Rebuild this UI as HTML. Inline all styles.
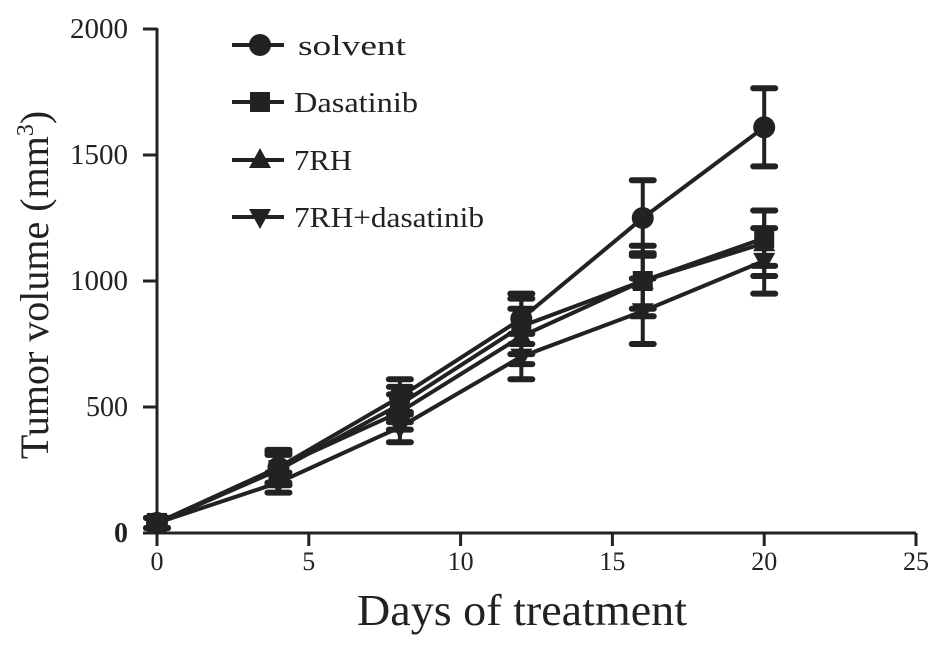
<!DOCTYPE html>
<html><head><meta charset="utf-8"><style>
body{margin:0;background:#fff}
svg{display:block;font-family:"Liberation Serif",serif}
</style></head><body>
<svg id="chart" width="945" height="650"></svg>
<script>
const days=[0,4,8,12,16,20];
const solvent=[40,260,540,850,1250,1610];
const solventErr=[20,70,70,100,150,155];
const dasatinib=[40,250,510,820,1000,1170];
const dasatinibErr=[20,60,70,110,110,110];
const rh7=[40,260,480,780,1000,1150];
const rh7Err=[20,60,70,110,140,130];
const combo=[40,200,420,700,880,1080];
const comboErr=[20,40,60,90,130,130];
const xTicks=[0,5,10,15,20,25];
const yTicks=[0,500,1000,1500,2000];
const seriesNames=["solvent","Dasatinib","7RH","7RH+dasatinib"];
const legendLens=[108,124,58,190];
const NS="http://www.w3.org/2000/svg";
const svg=document.getElementById('chart');
const X=v=>157+v*30.36;
const Y=v=>533-v*0.252;
function mk(t,a,p){const e=document.createElementNS(NS,t);for(const k in a)e.setAttribute(k,a[k]);(p||svg).appendChild(e);return e;}
let ax=mk('line',{x1:143,y1:533,x2:916,y2:533,stroke:'#222','stroke-width':3});


ax=mk('line',{x1:157,y1:28,x2:157,y2:533,stroke:'#222','stroke-width':3});


xTicks.forEach(t=>{mk('line',{x1:X(t),y1:533,x2:X(t),y2:546,stroke:'#222','stroke-width':3});
const tx=mk('text',{x:X(t),y:570,'font-size':26,'text-anchor':'middle',fill:'#222'});tx.textContent=t;

});
yTicks.forEach(t=>{if(t>0)mk('line',{x1:143,y1:Y(t),x2:157,y2:Y(t),stroke:'#222','stroke-width':3});
const a={x:128,y:Y(t)+9,'font-size':28,'text-anchor':'end',fill:'#222','font-weight':t===0?'bold':'normal'};
if(t>=1000){a.textLength=58;a.lengthAdjust='spacingAndGlyphs';}
const tx=mk('text',a);tx.textContent=t;

});
let tt=mk('text',{x:357,y:625,'font-size':44,textLength:330,lengthAdjust:'spacingAndGlyphs',fill:'#222'});tt.textContent='Days of treatment';


tt=mk('text',{transform:'translate(48,285) rotate(-90)','font-size':40,'text-anchor':'middle',fill:'#222'});
tt.innerHTML='Tumor volume (mm<tspan dy="-15" font-size="24">3</tspan><tspan dy="15">)</tspan>';


function marker(kind,x,y,g){
 if(kind===0)mk('circle',{cx:x,cy:y,r:11,fill:'#222'},g);
 else if(kind===1)mk('rect',{x:x-10,y:y-10,width:20,height:20,fill:'#222'},g);
 else if(kind===2)mk('polygon',{points:`${x},${y-12} ${x-11},${y+8} ${x+11},${y+8}`,fill:'#222'},g);
 else mk('polygon',{points:`${x},${y+12} ${x-11},${y-8} ${x+11},${y-8}`,fill:'#222'},g);
}
const all=[[solvent,solventErr],[dasatinib,dasatinibErr],[rh7,rh7Err],[combo,comboErr]];
all.forEach((s,k)=>{
 const g=mk('g',{});
 
 
 mk('polyline',{points:days.map((d,i)=>X(d)+','+Y(s[0][i])).join(' '),fill:'none',stroke:'#222','stroke-width':4},g);
 days.forEach((d,i)=>{const x=X(d),v=s[0][i],e=s[1][i];
  mk('line',{x1:x,y1:Y(v-e),x2:x,y2:Y(v+e),stroke:'#222','stroke-width':4},g);
  [v-e,v+e].forEach(c=>mk('line',{x1:x-11,y1:Y(c),x2:x+11,y2:Y(c),stroke:'#222','stroke-width':6,'stroke-linecap':'round'},g));
  marker(k,x,Y(v),g);});
});
const ly=[45,102,160,217];
const lx=[298,294,294,294];
seriesNames.forEach((n,k)=>{
 const g=mk('g',{});
 
 
 mk('line',{x1:232,y1:ly[k],x2:284,y2:ly[k],stroke:'#222','stroke-width':4},g);
 marker(k,260,ly[k],g);
 const t=mk('text',{x:lx[k],y:ly[k]+10,'font-size':28,textLength:legendLens[k],lengthAdjust:'spacingAndGlyphs',fill:'#222'},g);t.textContent=n;
});
</script>
</body></html>
